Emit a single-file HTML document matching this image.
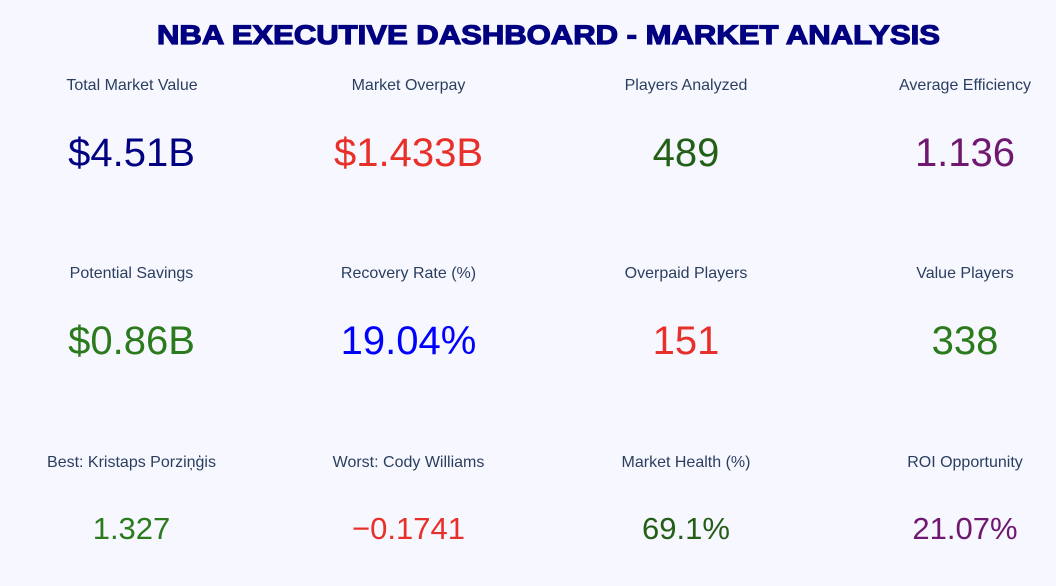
<!DOCTYPE html>
<html>
<head>
<meta charset="utf-8">
<style>
html,body{margin:0;padding:0;background:#f7f7ff;}
svg{display:block;}
.lbl{font-family:"Liberation Sans",Arial,sans-serif;font-size:16px;fill:#2a3f5f;text-anchor:middle;}
.val{font-family:"Liberation Sans",Arial,sans-serif;font-size:40px;text-anchor:middle;}
.val3{font-family:"Liberation Sans",Arial,sans-serif;font-size:31px;text-anchor:middle;}
</style>
</head>
<body>
<svg width="1056" height="586" viewBox="0 0 1056 586" xmlns="http://www.w3.org/2000/svg">
<rect x="0" y="0" width="1056" height="586" fill="#f7f7ff"/>
<text x="157" y="44" textLength="783" lengthAdjust="spacingAndGlyphs" font-family="'Liberation Sans',Arial,sans-serif" font-weight="bold" font-size="27" fill="#000080" stroke="#000080" stroke-width="1.2">NBA EXECUTIVE DASHBOARD - MARKET ANALYSIS</text>

<!-- Row 1 -->
<text class="lbl" x="132" y="90">Total Market Value</text>
<text class="lbl" x="408.5" y="90">Market Overpay</text>
<text class="lbl" x="686" y="90">Players Analyzed</text>
<text class="lbl" x="965" y="90">Average Efficiency</text>
<text class="val" x="131.5" y="166" fill="#000080">$4.51B</text>
<text class="val" x="408.5" y="166" fill="#e8302a">$1.433B</text>
<text class="val" x="686" y="166" fill="#245f17">489</text>
<text class="val" x="965" y="166" fill="#701870">1.136</text>

<!-- Row 2 -->
<text class="lbl" x="131.5" y="278">Potential Savings</text>
<text class="lbl" x="408.5" y="278">Recovery Rate (%)</text>
<text class="lbl" x="686" y="278">Overpaid Players</text>
<text class="lbl" x="965" y="278">Value Players</text>
<text class="val" x="131.5" y="354" fill="#2b7a1b">$0.86B</text>
<text class="val" x="408.5" y="354" fill="#0000ff">19.04%</text>
<text class="val" x="686" y="354" fill="#e8302a">151</text>
<text class="val" x="965" y="354" fill="#2b7a1b">338</text>

<!-- Row 3 -->
<text class="lbl" x="131.5" y="467">Best: Kristaps Porziņģis</text>
<text class="lbl" x="408.5" y="467">Worst: Cody Williams</text>
<text class="lbl" x="686" y="467">Market Health (%)</text>
<text class="lbl" x="965" y="467">ROI Opportunity</text>
<text class="val3" x="131.5" y="539" fill="#2b7a1b">1.327</text>
<text class="val3" x="408.5" y="539" fill="#e8302a">−0.1741</text>
<text class="val3" x="686" y="539" fill="#245f17">69.1%</text>
<text class="val3" x="965" y="539" fill="#701870">21.07%</text>
</svg>
</body>
</html>
